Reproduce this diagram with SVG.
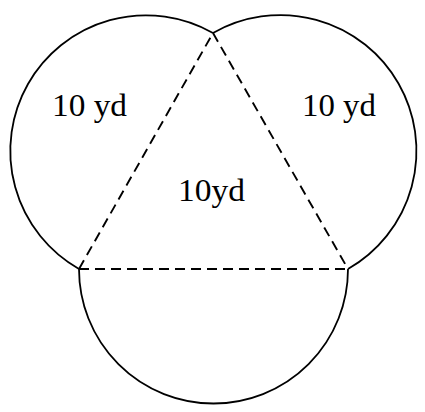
<svg xmlns="http://www.w3.org/2000/svg" width="425" height="412" viewBox="0 0 425 412">
<style>
.arc{fill:none;stroke:#000;stroke-width:1.8}
.side{fill:none;stroke:#000;stroke-width:1.9;stroke-dasharray:10 6}
.lbl{font-family:"Liberation Serif",serif;font-size:32px;fill:#000}
</style>
<rect width="425" height="412" fill="#fff"/>
<g id="semicircles">
<path class="arc" d="M79,269 A134.5,134.5 0 0 1 213,33"/>
<path class="arc" d="M213,33 A134.5,134.5 0 0 1 348,269"/>
<path class="arc" d="M348,269 A134.5,134.5 0 0 1 79,269"/>
</g>
<g id="connectors">
<path class="side" d="M79,269 L213,33"/>
<path class="side" d="M213,33 L348,269"/>
<path class="side" d="M79,269 L348,269"/>
</g>
<g id="labels">
<text class="lbl" x="52" y="116" textLength="75" lengthAdjust="spacingAndGlyphs">10 yd</text>
<text class="lbl" x="302" y="116" textLength="74" lengthAdjust="spacingAndGlyphs">10 yd</text>
<text class="lbl" x="178" y="201" textLength="67" lengthAdjust="spacingAndGlyphs">10yd</text>
</g>
</svg>
